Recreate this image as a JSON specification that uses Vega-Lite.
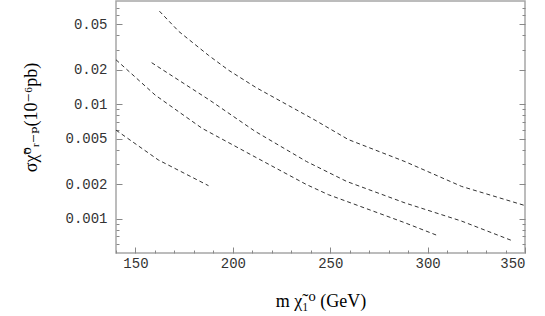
{
  "$schema": "https://vega.github.io/schema/vega-lite/v6.json",
  "width": 409,
  "height": 252,
  "autosize": {"type": "none"},
  "padding": {"left": 116, "top": 1, "right": 20, "bottom": 63},
  "background": "white",
  "config": {
    "view": {"stroke": "#a6a6a6", "strokeWidth": 1.5},
    "axis": {
      "domain": false,
      "grid": false,
      "labelFont": "Courier New, Liberation Mono, monospace",
      "labelFontSize": 14,
      "labelFontWeight": "normal",
      "labelColor": "#333333",
      "tickColor": "#888888",
      "titleFont": "Liberation Serif, DejaVu Serif, serif",
      "titleFontWeight": "normal",
      "titleFontSize": 18,
      "titleColor": "#000000"
    }
  },
  "data": {
    "values": [
      {"series": "a", "m": 162.3, "sigma": 0.0652},
      {"series": "a", "m": 172.2, "sigma": 0.0434},
      {"series": "a", "m": 187.6, "sigma": 0.0267},
      {"series": "a", "m": 197.9, "sigma": 0.0198},
      {"series": "a", "m": 212.2, "sigma": 0.0139},
      {"series": "a", "m": 242.2, "sigma": 0.00726},
      {"series": "a", "m": 259.3, "sigma": 0.00491},
      {"series": "a", "m": 288.4, "sigma": 0.00315},
      {"series": "a", "m": 317.5, "sigma": 0.00191},
      {"series": "a", "m": 350, "sigma": 0.0013},
      {"series": "b", "m": 158.3, "sigma": 0.0231},
      {"series": "b", "m": 188.3, "sigma": 0.0108},
      {"series": "b", "m": 211.4, "sigma": 0.0058},
      {"series": "b", "m": 237.9, "sigma": 0.00315},
      {"series": "b", "m": 258.5, "sigma": 0.00211},
      {"series": "b", "m": 288.4, "sigma": 0.00137},
      {"series": "b", "m": 317.5, "sigma": 0.00095},
      {"series": "b", "m": 344, "sigma": 0.000635},
      {"series": "c", "m": 140, "sigma": 0.0245},
      {"series": "c", "m": 160.2, "sigma": 0.012},
      {"series": "c", "m": 184.2, "sigma": 0.00616},
      {"series": "c", "m": 211.4, "sigma": 0.00346},
      {"series": "c", "m": 237.9, "sigma": 0.00198},
      {"series": "c", "m": 249, "sigma": 0.00162},
      {"series": "c", "m": 288.4, "sigma": 0.000918},
      {"series": "c", "m": 304.7, "sigma": 0.000715},
      {"series": "d", "m": 140, "sigma": 0.00594},
      {"series": "d", "m": 161.7, "sigma": 0.00326},
      {"series": "d", "m": 187.5, "sigma": 0.00194}
    ]
  },
  "layer": [
    {
      "mark": {"type": "line", "strokeDash": [4, 3], "strokeWidth": 1, "color": "#333333"},
      "encoding": {
        "x": {
          "field": "m", "type": "quantitative",
          "scale": {"domain": [140, 350], "nice": false, "zero": false},
          "axis": {"orient": "bottom", "values": [150, 200, 250, 300, 350], "tickSize": -6, "labelPadding": 9, "title": "m χ̃₁⁰ (GeV)", "titlePadding": 22}
        },
        "y": {
          "field": "sigma", "type": "quantitative",
          "scale": {"type": "log", "domain": [0.0005, 0.08], "nice": false},
          "axis": {"orient": "left", "values": [0.001, 0.002, 0.005, 0.01, 0.02, 0.05], "format": "~g", "tickSize": -6, "labelPadding": 15, "title": "σχ̃⁰ᵣ₋ₚ(10⁻⁶pb)", "titlePadding": 24, "titleY": 116}
        },
        "detail": {"field": "series"}
      }
    },
    {
      "mark": {"type": "line", "opacity": 0},
      "encoding": {
        "x": {"field": "m", "type": "quantitative", "axis": {"orient": "bottom", "values": [140, 160, 170, 180, 190, 210, 220, 230, 240, 260, 270, 280, 290, 310, 320, 330, 340], "tickSize": -3, "labels": false, "title": null}},
        "y": {"field": "sigma", "type": "quantitative", "axis": {"orient": "left", "values": [0.0006, 0.0007, 0.0008, 0.0009, 0.003, 0.004, 0.006, 0.007, 0.008, 0.009, 0.03, 0.04, 0.06, 0.07], "tickSize": -3, "labels": false, "title": null}},
        "detail": {"field": "series"}
      }
    },
    {
      "mark": {"type": "line", "opacity": 0},
      "encoding": {
        "x": {"field": "m", "type": "quantitative", "axis": null},
        "y": {"field": "sigma", "type": "quantitative", "axis": {"orient": "right", "values": [0.001, 0.002, 0.005, 0.01, 0.02, 0.05], "tickSize": -6, "labels": false, "title": null}},
        "detail": {"field": "series"}
      }
    },
    {
      "mark": {"type": "line", "opacity": 0},
      "encoding": {
        "x": {"field": "m", "type": "quantitative", "axis": null},
        "y": {"field": "sigma", "type": "quantitative", "axis": {"orient": "right", "values": [0.0006, 0.0007, 0.0008, 0.0009, 0.003, 0.004, 0.006, 0.007, 0.008, 0.009, 0.03, 0.04, 0.06, 0.07], "tickSize": -3, "labels": false, "title": null}},
        "detail": {"field": "series"}
      }
    }
  ],
  "resolve": {"axis": {"x": "independent", "y": "independent"}}
}
